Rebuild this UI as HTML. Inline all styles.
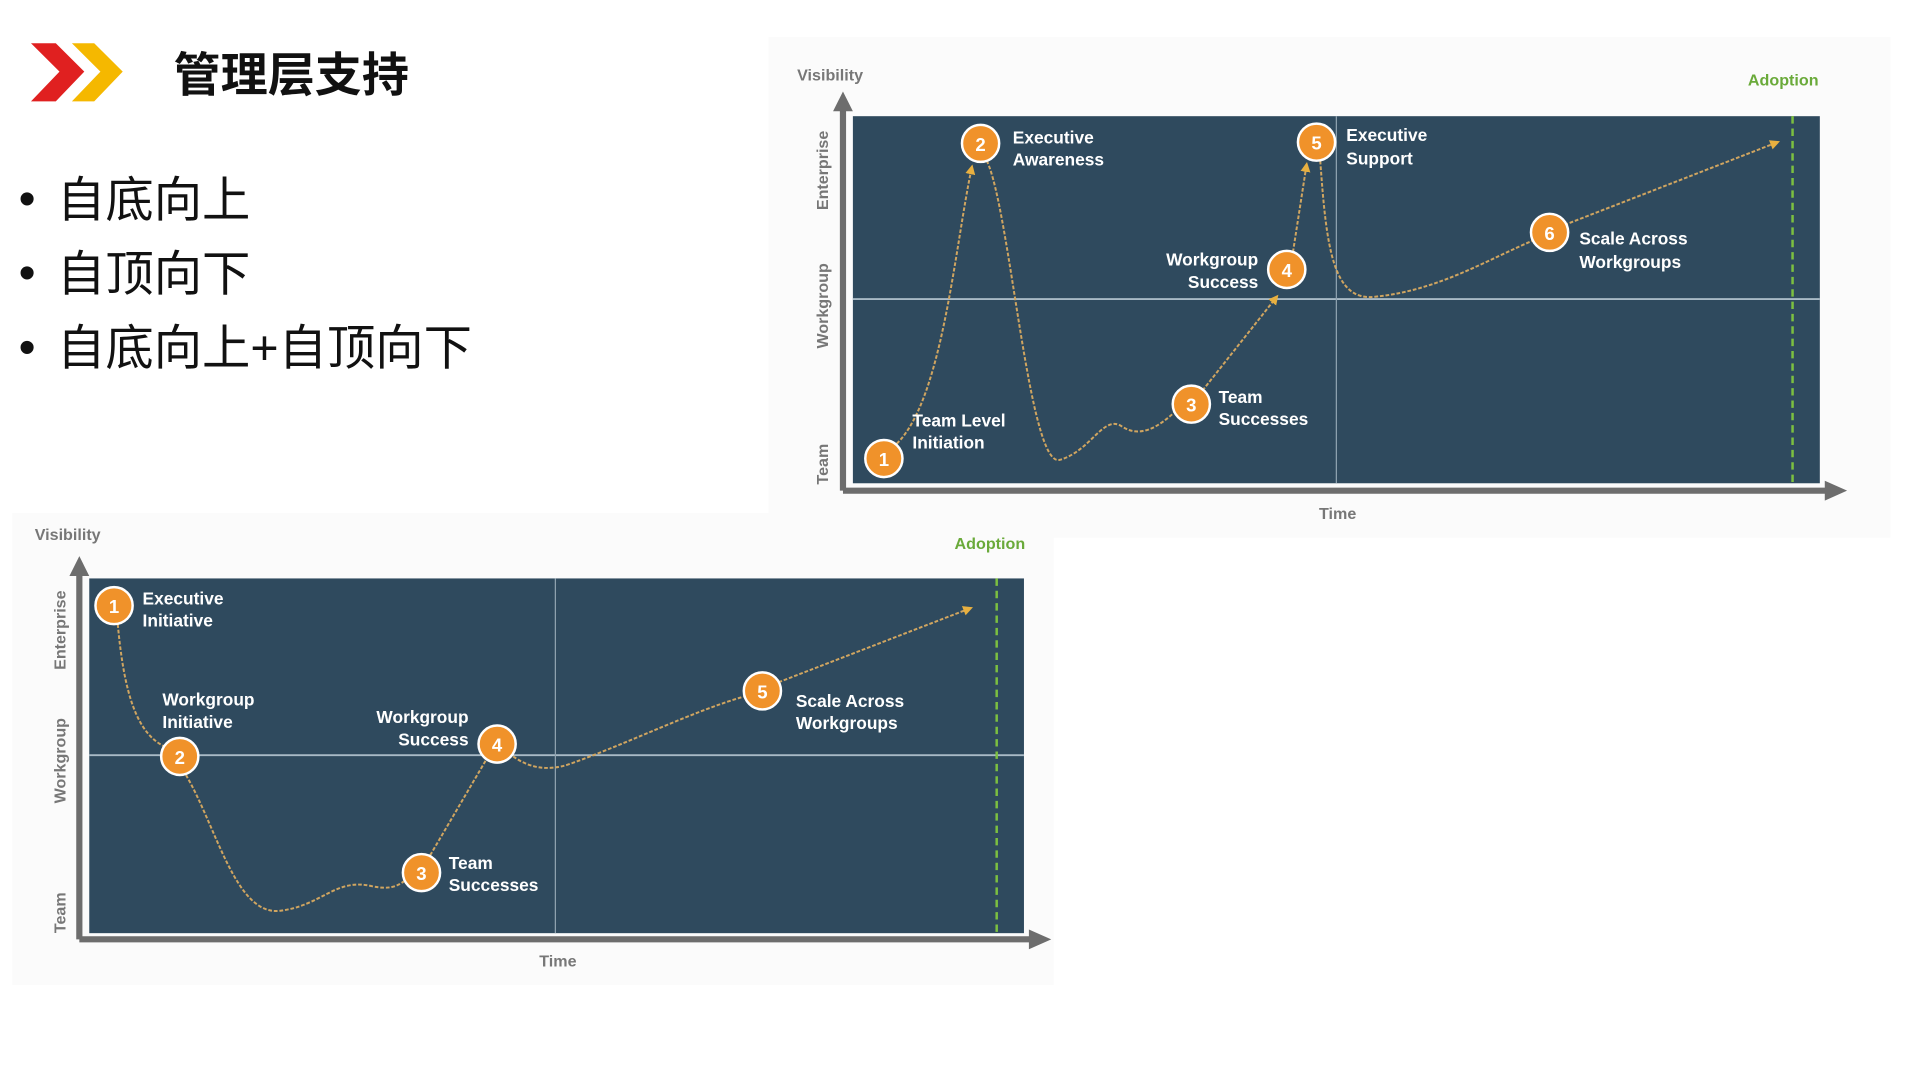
<!DOCTYPE html>
<html><head><meta charset="utf-8"><style>
html,body{margin:0;padding:0;background:#fff;width:1919px;height:1079px;overflow:hidden}
svg{display:block}
</style></head><body>
<svg width="1919" height="1079" viewBox="0 0 1548 873" preserveAspectRatio="none" xmlns="http://www.w3.org/2000/svg">
<defs>
<marker id="ar" markerWidth="8" markerHeight="8" refX="6" refY="4" orient="auto" markerUnits="userSpaceOnUse"><path d="M0,0 L8,4 L0,8 z" fill="#e8b040"/></marker>
</defs>
<!-- header -->
<polygon points="25,35 45,35 68,58 45,82 25,82 48,58" fill="#e02020"/>
<polygon points="58,35 76,35 99,58 76,82 58,82 81,58" fill="#f5b800"/>
<text x="140" y="74" font-family="Liberation Sans, Noto Sans CJK SC, sans-serif" font-size="38" font-weight="bold" fill="#111">管理层支持</text>
<g font-family="Liberation Sans, Noto Sans CJK SC, sans-serif" font-size="39" fill="#111">
<text x="15" y="174">•</text><text x="46" y="175">自底向上</text>
<text x="15" y="234">•</text><text x="46" y="235">自顶向下</text>
<text x="15" y="294">•</text><text x="46" y="295">自底向上+自顶向下</text>
</g>

<!-- TOP CHART -->
<rect x="620" y="30" width="905" height="405" fill="#fbfbfb"/>
<rect x="688" y="94" width="780" height="297" fill="#2f4a5e"/>
<line x1="688" y1="242" x2="1468" y2="242" stroke="#a9bac6" stroke-width="1.5"/>
<line x1="1078" y1="94" x2="1078" y2="391" stroke="#8fa2b0" stroke-width="1"/>
<line x1="1446" y1="94" x2="1446" y2="391" stroke="#7cc040" stroke-width="2" stroke-dasharray="6,4"/>
<line x1="680" y1="397" x2="1475" y2="397" stroke="#6d6d6d" stroke-width="5"/>
<polygon points="1472,389 1490,397 1472,405" fill="#6d6d6d"/>
<line x1="680" y1="397" x2="680" y2="88" stroke="#6d6d6d" stroke-width="5"/>
<polygon points="672,90 680,74 688,90" fill="#6d6d6d"/>
<g font-family="Liberation Sans, sans-serif" font-weight="bold" font-size="13" fill="#777">
<text x="643" y="65">Visibility</text>
<text x="1064" y="420">Time</text>
<text transform="translate(668,392) rotate(-90)">Team</text>
<text transform="translate(668,282) rotate(-90)">Workgroup</text>
<text transform="translate(668,170) rotate(-90)">Enterprise</text>
</g>
<text x="1410" y="69" font-family="Liberation Sans, sans-serif" font-weight="bold" font-size="13" fill="#6aaa3a">Adoption</text>
<g fill="none" stroke="#d0a560" stroke-width="1.6" stroke-dasharray="3,1.5">
<path d="M720,362 C760,330 770,200 784,135" marker-end="url(#ar)"/>
<path d="M796,130 C815,170 830,380 855,372 C880,365 890,335 905,345 C920,355 935,345 948,333"/>
<path d="M970,316 L1030,240" marker-end="url(#ar)"/>
<path d="M1043,204 L1054,133" marker-end="url(#ar)"/>
<path d="M1065,130 C1070,200 1075,245 1110,240 C1160,235 1200,210 1238,194"/>
<path d="M1262,182 L1434,115" marker-end="url(#ar)"/>
</g>
<g font-family="Liberation Sans, sans-serif" font-weight="bold" font-size="15" fill="#fff" text-anchor="middle">
<circle cx="713" cy="371" r="15" fill="#f0922a" stroke="#fff" stroke-width="2"/><text x="713" y="377">1</text>
<circle cx="791" cy="116" r="15" fill="#f0922a" stroke="#fff" stroke-width="2"/><text x="791" y="122">2</text>
<circle cx="961" cy="327" r="15" fill="#f0922a" stroke="#fff" stroke-width="2"/><text x="961" y="333">3</text>
<circle cx="1038" cy="218" r="15" fill="#f0922a" stroke="#fff" stroke-width="2"/><text x="1038" y="224">4</text>
<circle cx="1062" cy="115" r="15" fill="#f0922a" stroke="#fff" stroke-width="2"/><text x="1062" y="121">5</text>
<circle cx="1250" cy="188" r="15" fill="#f0922a" stroke="#fff" stroke-width="2"/><text x="1250" y="194">6</text>
</g>
<g font-family="Liberation Sans, sans-serif" font-weight="bold" font-size="14" fill="#fff">
<text x="736" y="345">Team Level</text><text x="736" y="363">Initiation</text>
<text x="817" y="116">Executive</text><text x="817" y="134">Awareness</text>
<text x="983" y="326">Team</text><text x="983" y="344">Successes</text>
<text x="1015" y="215" text-anchor="end">Workgroup</text><text x="1015" y="233" text-anchor="end">Success</text>
<text x="1086" y="114">Executive</text><text x="1086" y="133">Support</text>
<text x="1274" y="198">Scale Across</text><text x="1274" y="217">Workgroups</text>
</g>

<!-- BOTTOM CHART -->
<rect x="10" y="415" width="840" height="382" fill="#fbfbfb"/>
<rect x="72" y="468" width="754" height="287" fill="#2f4a5e"/>
<line x1="72" y1="611" x2="826" y2="611" stroke="#a9bac6" stroke-width="1.5"/>
<line x1="448" y1="468" x2="448" y2="755" stroke="#8fa2b0" stroke-width="1"/>
<line x1="804" y1="468" x2="804" y2="755" stroke="#7cc040" stroke-width="2" stroke-dasharray="6,4"/>
<line x1="64" y1="760" x2="832" y2="760" stroke="#6d6d6d" stroke-width="5"/>
<polygon points="830,752 848,760 830,768" fill="#6d6d6d"/>
<line x1="64" y1="760" x2="64" y2="464" stroke="#6d6d6d" stroke-width="5"/>
<polygon points="56,466 64,450 72,466" fill="#6d6d6d"/>
<g font-family="Liberation Sans, sans-serif" font-weight="bold" font-size="13" fill="#777">
<text x="28" y="437">Visibility</text>
<text x="435" y="782">Time</text>
<text transform="translate(53,755) rotate(-90)">Team</text>
<text transform="translate(53,650) rotate(-90)">Workgroup</text>
<text transform="translate(53,542) rotate(-90)">Enterprise</text>
</g>
<text x="770" y="444" font-family="Liberation Sans, sans-serif" font-weight="bold" font-size="13" fill="#6aaa3a">Adoption</text>
<g fill="none" stroke="#d0a560" stroke-width="1.6" stroke-dasharray="3,1.5">
<path d="M95,505 C100,560 110,595 135,605"/>
<path d="M150,627 C175,670 190,740 225,737 C260,733 270,710 300,717 C315,720 320,717 326,713"/>
<path d="M347,692 L392,615"/>
<path d="M414,612 C425,620 440,625 460,618 C510,600 560,575 602,563"/>
<path d="M628,552 L783,492" marker-end="url(#ar)"/>
</g>
<g font-family="Liberation Sans, sans-serif" font-weight="bold" font-size="15" fill="#fff" text-anchor="middle">
<circle cx="92" cy="490" r="15" fill="#f0922a" stroke="#fff" stroke-width="2"/><text x="92" y="496">1</text>
<circle cx="145" cy="612" r="15" fill="#f0922a" stroke="#fff" stroke-width="2"/><text x="145" y="618">2</text>
<circle cx="340" cy="706" r="15" fill="#f0922a" stroke="#fff" stroke-width="2"/><text x="340" y="712">3</text>
<circle cx="401" cy="602" r="15" fill="#f0922a" stroke="#fff" stroke-width="2"/><text x="401" y="608">4</text>
<circle cx="615" cy="559" r="15" fill="#f0922a" stroke="#fff" stroke-width="2"/><text x="615" y="565">5</text>
</g>
<g font-family="Liberation Sans, sans-serif" font-weight="bold" font-size="14" fill="#fff">
<text x="115" y="489">Executive</text><text x="115" y="507">Initiative</text>
<text x="131" y="571">Workgroup</text><text x="131" y="589">Initiative</text>
<text x="378" y="585" text-anchor="end">Workgroup</text><text x="378" y="603" text-anchor="end">Success</text>
<text x="362" y="703">Team</text><text x="362" y="721">Successes</text>
<text x="642" y="572">Scale Across</text><text x="642" y="590">Workgroups</text>
</g>
</svg>
</body></html>
